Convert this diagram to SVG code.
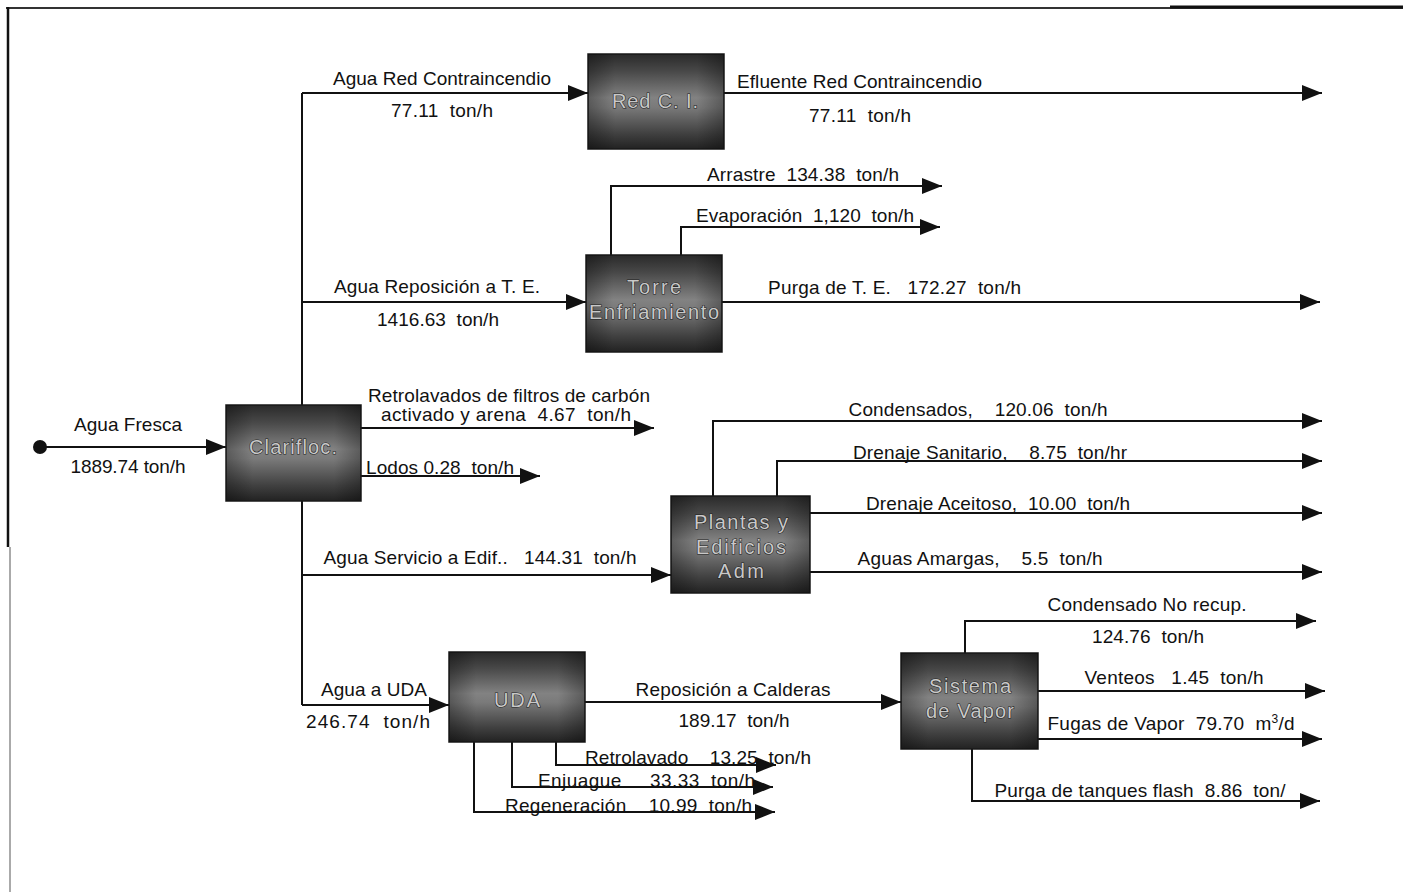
<svg xmlns="http://www.w3.org/2000/svg" width="1403" height="892" viewBox="0 0 1403 892">
  <defs>
    <linearGradient id="boxShade" x1="0" y1="0" x2="0" y2="1">
      <stop offset="0" stop-color="#2a2a2a"/>
      <stop offset="0.18" stop-color="#484848"/>
      <stop offset="0.46" stop-color="#828282"/>
      <stop offset="0.56" stop-color="#7a7a7a"/>
      <stop offset="0.84" stop-color="#404040"/>
      <stop offset="1" stop-color="#222"/>
    </linearGradient>
    <linearGradient id="boxEdge" x1="0" y1="0" x2="1" y2="0">
      <stop offset="0" stop-color="#000" stop-opacity="0.3"/>
      <stop offset="0.2" stop-color="#000" stop-opacity="0"/>
      <stop offset="0.8" stop-color="#000" stop-opacity="0"/>
      <stop offset="1" stop-color="#000" stop-opacity="0.3"/>
    </linearGradient>
    <marker id="arrow" markerUnits="userSpaceOnUse" markerWidth="20" markerHeight="16" refX="20" refY="8" orient="auto">
      <path d="M0,0 L20,8 L0,16 z" fill="#111"/>
    </marker>
  </defs>
  <style>
    .flow { fill: none; stroke: #111; stroke-width: 2; }
    .arr { marker-end: url(#arrow); }
    .lbl { font-family: "Liberation Sans", Arial, sans-serif; font-size: 19px; fill: #111; white-space: pre; }
    .mid { text-anchor: middle; }
    .box { fill: url(#boxShade); stroke: #1a1a1a; stroke-width: 1.5; }
    .edge { fill: url(#boxEdge); stroke: none; }
    .btxt { font-family: "Liberation Sans", Arial, sans-serif; font-size: 20px; fill: #c8c8c8; stroke: #1e1e1e; stroke-width: 1.1; paint-order: stroke; text-anchor: middle; }
  </style>

  <rect width="1403" height="892" fill="#fff"/>

  <!-- page frame -->
  <g id="frame">
    <path d="M6,8 H1403" stroke="#333" stroke-width="2" fill="none"/>
    <path d="M1170,7 H1403" stroke="#111" stroke-width="3" fill="none"/>
    <path d="M8,7 V547" stroke="#111" stroke-width="2.5" fill="none"/>
    <path d="M10,547 V892" stroke="#aaa" stroke-width="2" fill="none"/>
  </g>

  <!-- connectors -->
  <g id="connectors">
    <!-- fresh water feed -->
    <circle cx="40" cy="447" r="7" fill="#111"/>
    <path class="flow arr" d="M40,447 H226"/>
    <!-- distribution trunk -->
    <path class="flow" d="M302,93 V405"/>
    <path class="flow" d="M302,501 V705"/>
    <path class="flow arr" d="M302,93 H588"/>
    <path class="flow arr" d="M302,302 H586"/>
    <path class="flow arr" d="M302,575 H671"/>
    <path class="flow arr" d="M302,705 H449"/>
    <!-- fire network -->
    <path class="flow arr" d="M724,93 H1322"/>
    <!-- cooling tower -->
    <path class="flow arr" d="M611,255 V186 H942"/>
    <path class="flow arr" d="M681,255 V227 H940"/>
    <path class="flow arr" d="M722,302 H1320"/>
    <!-- clarifloc outputs -->
    <path class="flow arr" d="M361,428 H654"/>
    <path class="flow arr" d="M361,476 H540"/>
    <!-- plants and buildings -->
    <path class="flow arr" d="M713,496 V421 H1322"/>
    <path class="flow arr" d="M777,496 V461 H1322"/>
    <path class="flow arr" d="M810,513 H1322"/>
    <path class="flow arr" d="M810,572 H1322"/>
    <!-- demineralizer -->
    <path class="flow arr" d="M585,702 H901"/>
    <path class="flow arr" d="M556,742 V765 H776"/>
    <path class="flow arr" d="M512,742 V787 H773"/>
    <path class="flow arr" d="M474,742 V812 H775"/>
    <!-- steam system -->
    <path class="flow arr" d="M965,653 V621 H1316"/>
    <path class="flow arr" d="M1038,691 H1325"/>
    <path class="flow arr" d="M1038,739 H1322"/>
    <path class="flow arr" d="M972,749 V801 H1320"/>
  </g>

  <!-- stream labels -->
  <g id="labels">
    <text class="lbl mid" x="128" y="431" textLength="108">Agua Fresca</text>
    <text class="lbl mid" x="128" y="473" textLength="115">1889.74 ton/h</text>
    <text class="lbl mid" x="442" y="85" textLength="218">Agua Red Contraincendio</text>
    <text class="lbl mid" x="442" y="117" textLength="102">77.11  ton/h</text>
    <text class="lbl" x="737" y="88" textLength="245">Efluente Red Contraincendio</text>
    <text class="lbl mid" x="860" y="122" textLength="102">77.11  ton/h</text>
    <text class="lbl mid" x="803" y="181" textLength="192">Arrastre  134.38  ton/h</text>
    <text class="lbl mid" x="805" y="222" textLength="218">Evaporación  1,120  ton/h</text>
    <text class="lbl mid" x="437" y="293" textLength="206">Agua Reposición a T. E.</text>
    <text class="lbl mid" x="438" y="326" textLength="122">1416.63  ton/h</text>
    <text class="lbl" x="768" y="294" textLength="253">Purga de T. E.   172.27  ton/h</text>
    <text class="lbl mid" x="509" y="402" textLength="282">Retrolavados de filtros de carbón</text>
    <text class="lbl mid" x="506" y="421" textLength="250">activado y arena  4.67  ton/h</text>
    <text class="lbl" x="366" y="474" textLength="148">Lodos 0.28  ton/h</text>
    <text class="lbl mid" x="480" y="564" textLength="313">Agua Servicio a Edif..   144.31  ton/h</text>
    <text class="lbl mid" x="978" y="416" textLength="259">Condensados,    120.06  ton/h</text>
    <text class="lbl mid" x="990" y="459" textLength="274">Drenaje Sanitario,    8.75  ton/hr</text>
    <text class="lbl mid" x="998" y="510" textLength="264">Drenaje Aceitoso,  10.00  ton/h</text>
    <text class="lbl mid" x="980" y="565" textLength="245">Aguas Amargas,    5.5  ton/h</text>
    <text class="lbl mid" x="374" y="696" textLength="106">Agua a UDA</text>
    <text class="lbl mid" x="368" y="728" textLength="124">246.74  ton/h</text>
    <text class="lbl mid" x="733" y="696" textLength="195">Reposición a Calderas</text>
    <text class="lbl mid" x="734" y="727" textLength="111">189.17  ton/h</text>
    <text class="lbl" x="585" y="764" textLength="226">Retrolavado    13.25  ton/h</text>
    <text class="lbl" x="538" y="787" textLength="217">Enjuague     33.33  ton/h</text>
    <text class="lbl" x="505" y="812" textLength="247">Regeneración    10.99  ton/h</text>
    <text class="lbl mid" x="1147" y="611" textLength="199">Condensado No recup.</text>
    <text class="lbl mid" x="1148" y="643" textLength="112">124.76  ton/h</text>
    <text class="lbl mid" x="1174" y="684" textLength="179">Venteos   1.45  ton/h</text>
    <text class="lbl mid" x="1171" y="730" textLength="247">Fugas de Vapor  79.70  m<tspan font-size="12" dy="-7">3</tspan><tspan dy="7">/d</tspan></text>
    <text class="lbl mid" x="1140" y="797" textLength="291">Purga de tanques flash  8.86  ton/</text>
  </g>

  <!-- process units -->
  <g id="red-ci">
    <rect class="box" x="588" y="54" width="136" height="95"/>
    <rect class="edge" x="588" y="54" width="136" height="95"/>
    <text class="btxt" x="655" y="108" textLength="86">Red C. I.</text>
  </g>
  <g id="torre-enfriamiento">
    <rect class="box" x="586" y="255" width="136" height="97"/>
    <rect class="edge" x="586" y="255" width="136" height="97"/>
    <text class="btxt" x="654" y="294" textLength="54">Torre</text>
    <text class="btxt" x="654" y="319" textLength="130">Enfriamiento</text>
  </g>
  <g id="clarifloc">
    <rect class="box" x="226" y="405" width="135" height="96"/>
    <rect class="edge" x="226" y="405" width="135" height="96"/>
    <text class="btxt" x="293" y="454" textLength="88">Clarifloc.</text>
  </g>
  <g id="plantas-edificios">
    <rect class="box" x="671" y="496" width="139" height="97"/>
    <rect class="edge" x="671" y="496" width="139" height="97"/>
    <text class="btxt" x="741" y="529" textLength="94">Plantas y</text>
    <text class="btxt" x="741" y="554" textLength="90">Edificios</text>
    <text class="btxt" x="741" y="578" textLength="46">Adm</text>
  </g>
  <g id="uda">
    <rect class="box" x="449" y="652" width="136" height="90"/>
    <rect class="edge" x="449" y="652" width="136" height="90"/>
    <text class="btxt" x="517" y="707" textLength="46">UDA</text>
  </g>
  <g id="sistema-vapor">
    <rect class="box" x="901" y="653" width="137" height="96"/>
    <rect class="edge" x="901" y="653" width="137" height="96"/>
    <text class="btxt" x="970" y="693" textLength="82">Sistema</text>
    <text class="btxt" x="970" y="718" textLength="88">de Vapor</text>
  </g>
</svg>
